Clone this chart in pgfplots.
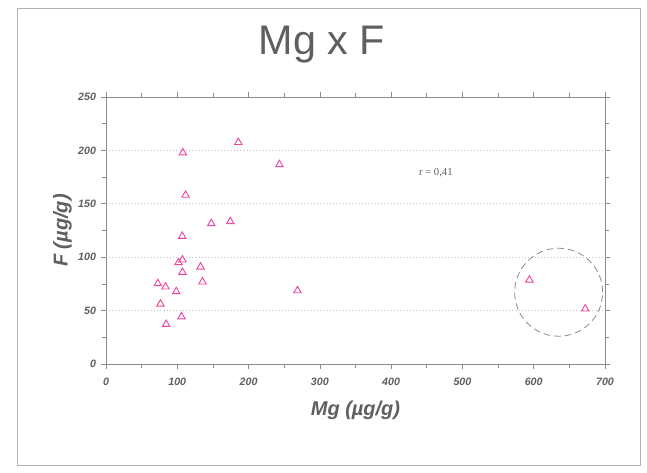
\documentclass[border=0pt]{standalone}
\usepackage{pgfplots}
\pgfplotsset{compat=1.18}
\usepackage{fontspec}
\setmainfont{Liberation Sans}
\newfontfamily\seriffont{Liberation Serif}
\definecolor{txt}{RGB}{95,95,95}
\definecolor{axc}{RGB}{140,140,140}
\definecolor{mk}{RGB}{240,70,160}
\begin{document}
\begin{tikzpicture}[x=1pt,y=1pt]
\path[fill=white] (0,0) rectangle (485.25,354.75);
\draw[black!30, line width=0.6pt] (12.75,6) rectangle (480,348.75);
\node[text=txt, font=\fontsize{31}{36}\selectfont] at (241.5,321) {Mg x F};
\begin{axis}[
  at={(79.5pt,81.75pt)}, anchor=origin,
  scale only axis, width=374.25pt, height=200.25pt,
  xmin=0, xmax=700, ymin=0, ymax=250,
  xtick={0,100,...,700}, ytick={0,50,...,250},
  minor xtick={50,150,...,650}, minor ytick={25,75,...,225},
  tick align=outside, major tick length=4pt, minor tick length=3pt,
  tick style={axc, line width=0.5pt},
  axis line style={axc, line width=0.6pt},
  ymajorgrids, grid style={black!25, dotted, line width=0.6pt},
  /pgf/number format/assume math mode=true,
  ticklabel style={font=\fontsize{8}{10}\selectfont\bfseries\itshape, text=txt},
  xticklabel style={yshift=-3pt},
  xlabel={Mg (µg/g)}, ylabel={F (µg/g)},
  label style={font=\fontsize{15}{18}\selectfont\bfseries\itshape, text=txt},
  xlabel style={yshift=-5pt},
  ylabel style={yshift=-2pt},
  clip=false,
]
\addplot[only marks, mark=triangle, mark size=3.2pt, mark options={mk, line width=0.7pt}] coordinates {
(107.8,197.8) (185.6,207.5) (243.3,186.8) (111.6,158.1) (147.7,131.5)
(174.4,133.4) (106.9,119.7) (107.3,97.5) (101.7,95.0) (132.6,90.9)
(107.3,85.9) (135.4,76.9) (72.7,75.3) (83.4,72.2) (98.5,67.8)
(268.6,68.7) (76.4,56.2) (105.9,44.3) (84.4,37.2) (594,78.7) (672.3,51.6)
};
\draw[axc, dashed, dash pattern=on 5pt off 3pt, line width=0.6pt] (axis cs:635,67.2) circle[radius=33pt];
\node[text=txt, font=\seriffont\fontsize{8}{10}\selectfont] at (axis cs:462.7,179.3) {r = 0,41};
\end{axis}
\end{tikzpicture}
\end{document}
